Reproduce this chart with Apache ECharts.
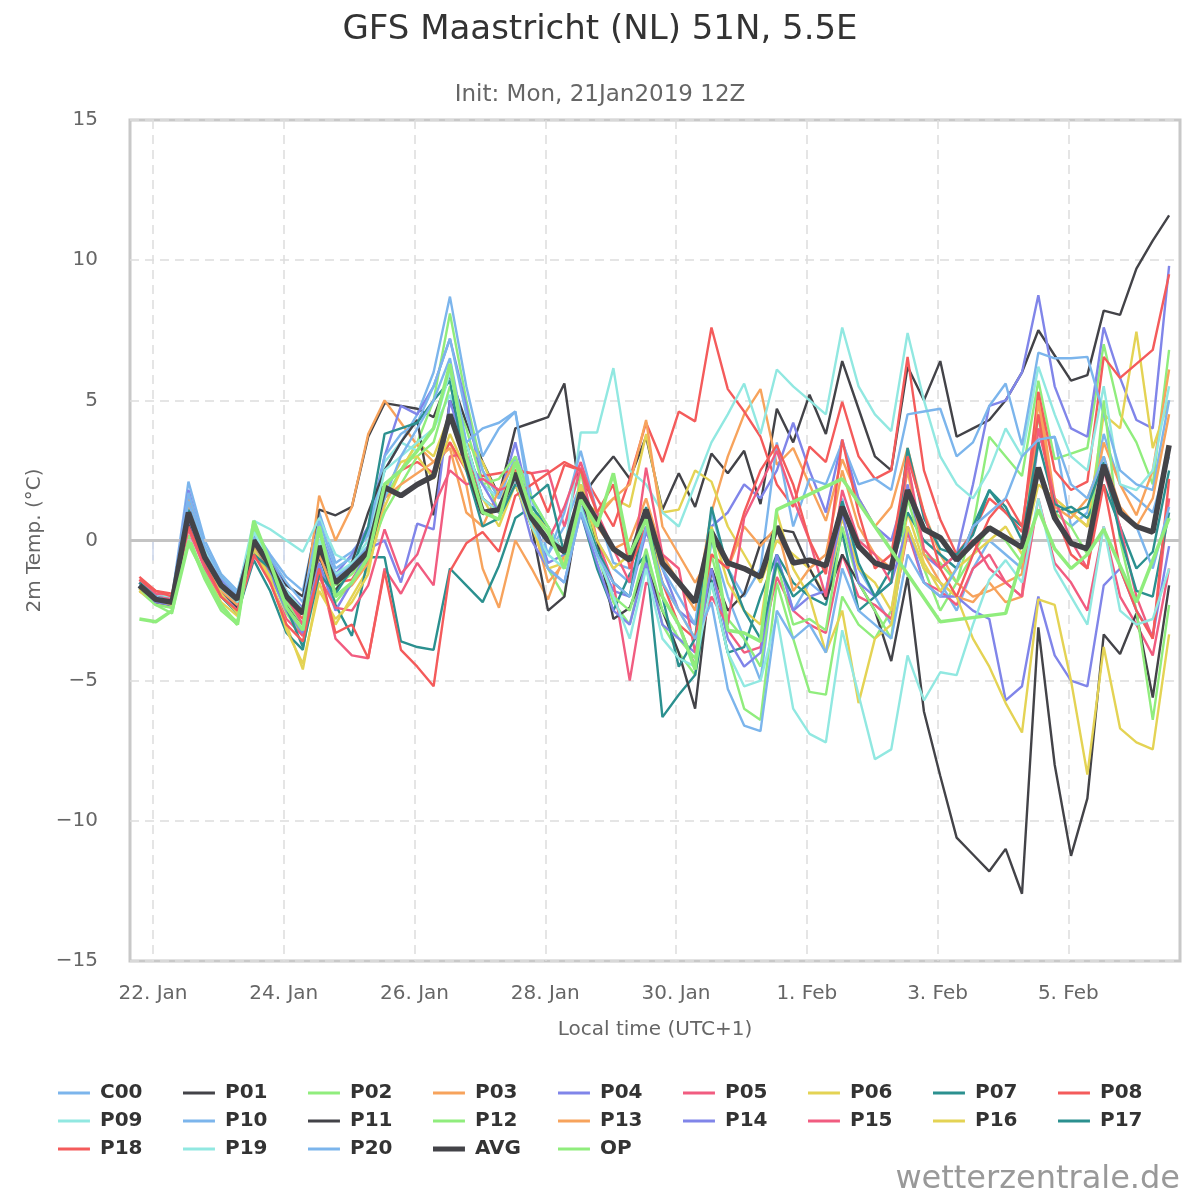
<!DOCTYPE html>
<html>
<head>
<meta charset="utf-8">
<script src="https://cdn.jsdelivr.net/npm/echarts@6/dist/echarts.min.js"></script>
<style>
html,body{margin:0;padding:0;background:#fff;}
#chart{width:1200px;height:1200px;}
</style>
</head>
<body>
<div id="chart"></div>
<script>
// Forecast steps: hours since 22 Jan 2019 00:00 local time (UTC+1), every 6 h
const X_HOURS = [-5,1,7,13,19,25,31,37,43,49,55,61,67,73,79,85,91,97,103,109,115,121,127,133,139,145,151,157,163,169,175,181,187,193,199,205,211,217,223,229,235,241,247,253,259,265,271,277,283,289,295,301,307,313,319,325,331,337,343,349,355,361,367,373];
const X_TICK_HOURS = [0,48,96,144,192,240,288,336];
const X_TICK_LABELS = ['22. Jan','24. Jan','26. Jan','28. Jan','30. Jan','1. Feb','3. Feb','5. Feb'];

const C00 = [-1.5,-1.9,-2.0,2.1,0.0,-1.2,-1.8,0.4, -0.5,-1.3,-1.8,1.0,-0.8,-0.4,0.3,2.5, 3.5,4.5,6.0,8.7,5.5,3.0,4.0,4.6, 1.5,-0.5,0.5,2.0,0.0,-1.0,-1.5,0.5, -2.0,-3.0,-4.5,0.0,-2.0,-3.5,-5.0,-0.5, -2.5,-1.5,-2.0,1.5,-1.0,-2.0,-3.0,0.5, -1.0,-1.5,-2.5,-1.0,0.0,-0.5,-1.0,3.5, 3.7,0.5,1.0,3.8,2.0,1.5,1.0,3.0];
const P01 = [-1.5,-2.0,-2.1,1.3,-0.3,-1.3,-2.0,0.2, -0.7,-1.6,-2.0,1.1,0.9,1.2,3.7,4.9, 4.8,4.7,4.4,5.9,4.2,2.8,1.6,4.0, 4.2,4.4,5.6,1.5,2.3,3.0,2.2,3.7, 1.1,2.4,1.2,3.1,2.4,3.2,1.3,4.7, 3.5,5.2,3.8,6.4,4.7,3.0,2.5,6.2, 5.0,6.4,3.7,4.0,4.3,5.0,6.0,7.5, 6.6,5.7,5.9,8.2,8.05,9.7,10.7,11.6];
const P02 = [-1.8,-2.3,-2.6,0.2,-1.3,-2.4,-2.9,0.4, -1.2,-2.6,-3.4,-0.9,-2.2,-1.5,-0.3,1.5, 2.5,3.5,5.0,8.1,5.0,2.5,1.0,2.5, 0.5,-1.0,-2.0,2.5,-0.5,-2.2,-3.0,-0.5, -3.0,-4.0,-4.8,-1.5,-4.0,-6.0,-6.4,-1.5, -3.5,-5.4,-5.5,-2.0,-3.0,-3.5,-2.5,0.5, -1.0,-2.5,-1.5,0.5,3.7,3.0,2.3,5.7, 2.9,3.1,3.3,7.0,4.5,3.5,2.0,6.8];
const P03 = [-1.8,-2.2,-2.4,1.5,-0.5,-1.6,-2.4,0.3, -0.8,-2.3,-2.6,1.6,0.0,1.2,3.8,5.0, 4.2,3.4,2.8,3.5,2.0,-1.0,-2.4,0.0, -1.0,-2.1,-0.5,2.0,0.5,-0.3,0.0,1.5, -0.5,-1.5,-2.5,1.0,3.0,4.5,5.4,2.7, 3.3,2.0,0.7,2.9,1.5,0.5,1.2,3.3, 1.0,-0.5,-1.5,-2.0,-1.8,-1.5,-1.2,5.3, 1.5,1.0,0.5,3.5,2.0,0.9,2.5,6.1];
const P04 = [-1.5,-2.0,-2.1,1.8,-0.3,-1.4,-2.0,0.2, -0.6,-1.8,-2.4,0.4,-1.2,-0.5,0.5,3.0, 4.8,4.5,5.5,7.2,4.8,2.0,1.5,3.5, 1.0,-0.8,-0.5,1.5,-0.5,-1.8,-2.0,0.3, -1.0,-2.5,-3.0,0.5,1.0,2.0,1.5,2.5, 4.2,2.5,1.0,3.6,1.5,0.5,0.0,2.0, -0.5,-1.0,-0.5,2.0,4.8,5.0,6.0,8.75, 5.5,4.0,3.7,7.6,5.8,4.3,4.0,9.8];
const P05 = [-1.4,-1.9,-2.0,0.7,-0.8,-1.8,-2.4,-0.4, -1.5,-2.8,-3.4,-1.0,-3.5,-4.1,-4.2,-1.0, -1.9,-0.8,-1.6,3.0,3.1,1.5,1.0,2.5, 2.4,2.5,0.5,2.6,0.0,-1.5,-5.0,-1.5, -2.0,-3.0,-4.5,-1.0,-3.2,-4.0,-3.8,-1.3, -2.5,-3.0,-3.3,-0.5,-2.0,-2.3,-2.8,0.3, -1.5,-1.8,-2.3,-1.0,-0.5,-1.5,-2.0,1.5, -0.8,-1.5,-2.5,0.5,-2.0,-3.0,-4.1,-1.0];
const P06 = [-1.8,-2.2,-2.4,0.5,-1.0,-2.2,-2.7,-0.4, -1.4,-3.0,-4.6,-1.5,-3.0,-2.0,-1.0,1.2, 2.5,3.5,3.0,4.5,3.5,2.8,1.5,2.5, 1.0,0.5,-0.5,1.5,1.0,1.5,1.2,3.8, 1.0,1.1,2.5,2.1,0.5,-0.5,-1.5,0.0, -0.5,-1.0,-2.0,0.8,-1.0,-1.5,-2.5,1.0, -0.8,-1.8,-1.0,-0.5,0.0,0.5,-0.5,2.0, 1.5,1.0,0.5,4.5,4.0,7.45,3.3,5.0];
const P07 = [-1.6,-2.1,-2.3,0.6,-0.9,-2.0,-2.6,-0.7, -1.8,-3.3,-3.9,-0.5,-2.3,-3.4,-0.6,-0.6, -3.6,-3.8,-3.9,-1.0,-1.6,-2.2,-0.9,0.8, 1.2,0.5,-0.5,1.0,-1.0,-2.5,-1.2,-0.5, -6.3,-5.5,-4.8,-1.4,-4.0,-3.8,-2.0,-0.5, -1.5,-2.0,-2.3,0.3,-2.5,-2.0,-1.0,1.0, 0.0,-0.5,-1.0,0.5,1.8,1.0,0.5,2.5, 1.0,1.2,0.8,2.0,0.5,-1.0,-0.4,2.5];
const P08 = [-1.4,-1.8,-1.9,0.8,-0.7,-1.8,-2.3,-0.3, -1.0,-2.2,-2.8,-0.3,-1.5,-1.4,-0.5,2.0, 2.5,2.8,2.4,3.5,2.5,2.3,2.4,2.5, 2.4,1.0,2.7,2.5,1.5,0.5,2.2,4.2, 2.8,4.6,4.25,7.6,5.4,4.6,3.7,2.0, 1.2,3.35,2.8,4.95,3.0,2.2,2.5,6.55, 2.5,0.75,-0.5,0.3,1.5,1.0,0.3,5.3, 2.5,1.8,2.1,6.55,5.8,6.3,6.8,9.5];
const P09 = [-1.5,-2.0,-2.0,1.3,-0.3,-1.3,-1.9,0.7, 0.4,0.0,-0.4,0.8,-0.5,-0.8,0.0,2.8, 3.5,3.2,4.0,5.2,3.0,2.0,1.5,3.0, 1.5,0.5,-0.5,3.85,3.85,6.15,2.5,2.0, 1.0,0.5,2.0,3.5,4.5,5.6,3.8,6.1, 5.5,5.0,4.5,7.6,5.5,4.5,3.9,7.4, 5.0,3.0,2.0,1.5,2.5,4.0,3.0,6.2, 4.5,3.0,2.5,5.5,2.0,1.8,2.5,5.5];
const P10 = [-1.5,-2.0,-2.1,1.7,-0.2,-1.3,-1.9,0.3, -0.6,-1.5,-2.2,0.7,-1.0,-0.6,0.2,3.0, 3.8,4.2,5.5,7.2,4.5,2.5,1.5,3.0, 0.5,-0.5,1.0,3.2,1.0,-0.8,-1.0,1.0, -1.0,-2.0,-3.0,1.0,-1.0,-2.0,-1.0,3.5, 0.5,2.2,2.0,3.5,2.0,2.2,1.8,4.5, 4.6,4.7,3.0,3.5,4.8,5.6,3.4,6.7, 6.5,6.5,6.55,4.5,2.5,2.0,1.8,5.0];
const P11 = [-1.7,-2.2,-2.3,0.6,-0.8,-1.8,-2.4,-0.2, -1.2,-2.3,-3.0,-0.6,-1.8,-0.8,1.0,2.5, 3.5,4.3,0.9,5.0,3.5,1.5,1.0,2.0, 0.5,-2.5,-2.0,1.5,0.0,-2.8,-2.4,-0.9, -2.5,-4.0,-6.0,-1.0,-2.5,-1.9,-0.1,0.4, 0.3,-1.0,-2.1,-0.5,-1.5,-2.5,-4.3,-1.3, -6.1,-8.4,-10.6,-11.2,-11.8,-11.0,-12.6,-3.1, -8.0,-11.25,-9.2,-3.35,-4.05,-2.6,-5.6,-1.6];
const P12 = [-1.7,-2.3,-2.4,0.0,-1.4,-2.5,-3.0,0.5, -1.0,-2.2,-3.0,0.3,-1.6,-1.2,-0.5,1.0, 2.0,3.0,3.5,5.5,4.0,2.0,2.2,3.0, 1.5,0.5,-1.0,2.0,-0.5,-2.0,-2.5,-0.3, -2.5,-3.5,-4.2,-0.5,-2.8,-3.5,-4.5,-0.8, -3.0,-2.8,-3.2,0.5,-1.5,-2.5,-3.5,1.5, -0.5,-0.8,-1.5,-0.5,0.5,0.0,-0.8,4.5, 1.0,0.5,-0.5,5.0,0.0,-2.5,-6.4,-2.3];
const P13 = [-1.7,-2.1,-2.3,1.2,-0.6,-1.8,-2.3,-0.2, -1.0,-2.5,-3.2,-0.5,-2.0,-1.6,-0.8,1.5, 2.0,2.4,2.8,3.3,1.0,0.5,1.8,2.8, 0.8,-1.5,-0.8,1.5,0.8,1.5,2.0,4.3, 0.5,-0.5,-1.5,-0.5,-1.0,0.5,-0.2,0.5, -1.8,-1.0,-0.5,2.5,0.5,-0.5,-1.0,2.5, -0.5,-1.5,-2.0,-2.2,-1.5,-2.2,-2.0,5.0, 1.2,0.8,1.5,3.0,1.2,0.5,1.5,4.5];
const P14 = [-1.6,-2.2,-2.3,0.8,-0.8,-1.9,-2.5,-0.3, -1.2,-2.5,-3.3,-0.8,-2.5,-1.5,-0.3,0.0, -1.5,0.6,0.4,5.0,3.0,2.0,1.0,2.2, 0.0,-1.0,-1.5,1.0,-0.8,-2.5,-3.0,-0.8, -3.0,-3.5,-4.0,-1.0,-3.5,-4.5,-4.0,-0.5, -2.5,-2.0,-1.8,1.0,-1.5,-2.0,-1.5,0.5, -1.5,-2.0,-2.0,-2.5,-2.8,-5.7,-5.2,-2.0, -4.1,-5.0,-5.2,-1.6,-1.0,-2.5,-3.4,-0.2];
const P15 = [-1.5,-2.0,-2.1,0.4,-1.0,-2.0,-2.5,-0.6, -1.0,-2.0,-3.0,-1.3,-2.4,-2.5,-1.6,0.4, -1.2,-0.5,1.2,2.5,2.0,2.2,1.8,2.0, 0.8,0.0,1.2,2.8,1.0,-0.3,-1.5,2.6, -0.5,-1.0,-4.0,-2.0,-3.0,0.8,2.0,3.2, 1.5,0.0,-2.0,1.8,0.0,-0.5,-1.5,2.8, -0.3,-1.0,-0.5,0.0,-1.0,-1.5,-2.0,4.0, 1.5,0.0,-1.0,2.5,0.5,-2.0,-3.5,1.5];
const P16 = [-1.7,-2.1,-2.3,0.9,-0.7,-1.9,-2.6,-0.3, -1.3,-3.2,-4.4,-1.8,-2.8,-2.2,-1.2,1.8, 2.8,3.0,2.2,3.8,2.5,1.5,0.5,2.0, 0.5,-1.0,-0.8,2.0,0.0,-1.0,-0.5,1.0, -1.5,-2.5,-3.5,0.5,-1.5,-2.5,-3.0,1.0, -1.0,-2.0,-4.0,-2.5,-5.8,-3.5,-3.0,0.5, -1.0,-1.5,-2.0,-3.5,-4.5,-5.8,-6.85,-2.1, -2.3,-5.0,-8.35,-3.8,-6.7,-7.2,-7.45,-3.35];
const P17 = [-1.5,-2.0,-2.2,1.1,-0.5,-1.6,-2.2,-0.5, -1.0,-2.4,-3.8,-1.2,-1.9,-1.0,0.5,3.8, 4.0,4.2,5.0,5.7,2.5,0.5,0.8,2.0, 1.5,2.0,-0.5,1.2,-0.3,-1.5,-2.0,1.2, -2.0,-4.5,-3.5,1.2,-1.0,-2.5,-3.5,-0.8, -2.0,-1.5,-1.0,1.4,-0.8,-2.0,-1.5,3.3, 0.8,-0.3,-0.5,0.2,1.8,1.2,0.0,3.5, 1.3,1.0,1.2,2.8,0.2,-1.8,-2.0,1.0];
const P18 = [-1.3,-1.8,-2.0,0.5,-0.8,-2.0,-2.5,-0.5, -1.5,-3.0,-3.6,-1.0,-3.3,-3.0,-4.2,-1.1, -3.9,-4.5,-5.2,-1.1,-0.1,0.3,-0.4,1.6, 2.0,2.4,2.8,2.5,1.0,2.0,-1.0,0.5, -1.5,-3.0,-3.5,-0.5,-1.0,1.0,2.5,3.4, 2.0,0.0,-1.2,3.6,1.0,-1.0,-0.5,3.0, 1.0,-1.0,-2.0,-0.5,0.8,1.5,0.5,4.5, 1.0,-0.5,-1.0,2.0,-1.0,-2.5,-3.5,2.2];
const P19 = [-1.6,-2.1,-2.2,1.0,-0.7,-1.7,-2.2,0.3, -0.8,-1.8,-2.5,0.0,-1.2,-0.8,-0.2,2.5, 3.0,3.5,4.0,6.0,3.5,1.5,1.0,2.2, 0.5,-0.5,-1.0,1.2,-0.5,-2.0,-3.5,-1.0, -3.5,-4.2,-4.5,-1.5,-4.0,-5.2,-5.0,-2.7, -6.0,-6.9,-7.2,-3.2,-5.5,-7.8,-7.45,-4.1, -5.7,-4.7,-4.8,-3.0,-1.4,-0.7,-1.5,1.5, -1.0,-2.0,-3.0,0.5,-2.5,-3.0,-2.8,-1.0];
const P20 = [-1.6,-2.0,-2.2,1.4,-0.5,-1.5,-2.0,0.1, -0.9,-1.9,-2.6,0.3,-1.3,-0.9,-0.2,1.5, 3.0,4.0,5.0,6.5,3.5,4.0,4.2,4.6, 1.0,-1.0,-1.5,1.0,-0.5,-1.5,-2.0,0.5, -1.5,-2.5,-3.5,-2.2,-5.3,-6.6,-6.8,-2.5, -3.5,-3.0,-4.0,-1.0,-2.5,-3.0,-3.5,-0.5, -1.5,-2.0,-1.0,0.5,1.0,1.5,3.0,3.6, 3.7,2.0,1.5,3.0,1.0,0.5,-1.0,1.2];
const AVG = [-1.6,-2.1,-2.2,1.0,-0.6,-1.6,-2.1,0.0, -0.9,-2.0,-2.6,-0.2,-1.5,-1.0,-0.4,1.9, 1.6,2.0,2.3,4.5,2.8,1.0,1.1,2.4, 0.8,0.0,-0.4,1.7,0.7,-0.3,-0.7,1.1, -0.8,-1.5,-2.2,0.3,-0.8,-1.0,-1.3,0.5, -0.8,-0.7,-0.9,1.2,-0.2,-0.8,-1.0,1.8, 0.4,0.1,-0.7,-0.1,0.45,0.1,-0.25,2.6, 0.8,-0.1,-0.3,2.7,1.0,0.5,0.3,3.4];
const OP = [-2.8,-2.9,-2.5,-0.1,-1.2,-2.3,-3.0,0.7, -0.8,-2.4,-3.2,0.5,-2.0,-1.5,-0.6,2.0, 2.5,3.2,4.0,6.3,3.0,1.0,0.75,2.8, 1.0,0.3,-1.0,1.45,0.5,2.4,-0.5,0.75, -2.0,-3.0,-4.6,0.4,-3.2,-3.3,-3.6,1.1, null,null,null,2.2,null,null,null,null, null,-2.9,null,null,null,-2.6,-0.6,1.1, -0.3,-1.0,-0.5,0.4,null,-2.2,null,0.8];

const SERIES_NAMES = ['C00','P01','P02','P03','P04','P05','P06','P07','P08','P09','P10','P11','P12','P13','P14','P15','P16','P17','P18','P19','P20','AVG','OP'];
const SERIES_VALUES = [C00,P01,P02,P03,P04,P05,P06,P07,P08,P09,P10,P11,P12,P13,P14,P15,P16,P17,P18,P19,P20,AVG,OP];
const LEGEND_COLUMNS = [['C00','P09','P18'],['P01','P10','P19'],['P02','P11','P20'],['P03','P12','AVG'],['P04','P13','OP'],['P05','P14'],['P06','P15'],['P07','P16'],['P08','P17']];

// styles
const PALETTE = ['#7cb5ec','#434348','#90ed7d','#f7a35c','#8085e9','#f15c80','#e4d354','#2b908f','#f45b5b','#91e8e1'];
const FONT = 'DejaVu Sans';
// legend icons: 32px line plus transparent 5px spacer, box 37x7
const ICON_THIN = 'path://M0,2h32v3h-32z M0,0h0.01v0.01h-0.01z M37,7h0.01v0.01h-0.01z';
const ICON_AVG = 'path://M0,1h32v5h-32z M0,0h0.01v0.01h-0.01z M37,7h0.01v0.01h-0.01z';
function colorFor(i, name){
  if (name === 'AVG') return '#434348';
  if (name === 'OP') return '#90ed7d';
  return PALETTE[i % 10];
}
function widthFor(name){ return name === 'AVG' ? 5.5 : (name === 'OP' ? 3.5 : 2.4); }

const series = [{
  name: 'zero', type: 'line', data: [], silent: true, z: 1,
  markLine: { silent: true, symbol: 'none', label: {show:false}, animation:false,
    lineStyle: { color: '#c4c4c4', width: 3, type: 'solid' }, data: [{ yAxis: 0 }] }
}];
SERIES_NAMES.forEach((name, i) => {
  series.push({
    name: name,
    type: 'line',
    data: X_HOURS.map((h, j) => [h, SERIES_VALUES[i][j]]),
    showSymbol: false,
    symbol: 'none',
    connectNulls: true,
    z: 2 + i,
    color: colorFor(i, name),
    lineStyle: { width: widthFor(name), color: colorFor(i, name) },
    emphasis: { disabled: true }
  });
});

const legends = LEGEND_COLUMNS.map((col, c) => ({
  orient: 'vertical',
  left: 58 + 125 * c,
  top: 1083,
  padding: 0,
  itemGap: 8,
  itemWidth: 37,
  itemHeight: 7,
  selectedMode: false,
  itemStyle: { borderWidth: 0 },
  data: col.map(n => ({ name: n, icon: n === 'AVG' ? ICON_AVG : ICON_THIN, itemStyle: { borderWidth: 0 } })),
  textStyle: { fontFamily: FONT, fontWeight: 'bold', fontSize: 20, color: '#333', lineHeight: 20 }
}));

const chart = echarts.init(document.getElementById('chart'), null, { renderer: 'canvas' });
chart.setOption({
  animation: false,
  backgroundColor: '#ffffff',
  title: [
    { text: 'GFS Maastricht (NL) 51N, 5.5E', left: 'center', top: 8,
      textStyle: { fontFamily: FONT, fontSize: 34, fontWeight: 'normal', color: '#333333' } },
    { text: 'Init: Mon, 21Jan2019 12Z', left: 'center', top: 79,
      textStyle: { fontFamily: FONT, fontSize: 23, fontWeight: 'normal', color: '#666666' } }
  ],
  legend: legends,
  grid: { left: 130, right: 20, top: 120, bottom: 239, show: true, borderColor: '#c8c8c8', borderWidth: 3, backgroundColor: 'transparent' },
  xAxis: {
    type: 'value', min: -8.45, max: 377,
    name: 'Local time (UTC+1)', nameLocation: 'middle', nameGap: 59,
    nameTextStyle: { fontFamily: FONT, fontSize: 20, color: '#666' },
    axisLine: { show: false },
    axisTick: { show: true, customValues: X_TICK_HOURS, length: 20, lineStyle: { color: '#ccd6eb', width: 1.5 } },
    axisLabel: { customValues: X_TICK_HOURS, margin: 23, fontFamily: FONT, fontSize: 20, color: '#666',
      formatter: v => X_TICK_LABELS[X_TICK_HOURS.indexOf(Math.round(v))] || '' },
    splitLine: { show: true, lineStyle: { color: '#dddddd', width: 1.5, type: [9, 6] } }
  },
  yAxis: {
    type: 'value', min: -15, max: 15, interval: 5,
    name: '2m Temp. (°C)', nameLocation: 'middle', nameGap: 77, nameRotate: 90,
    nameTextStyle: { fontFamily: FONT, fontSize: 20, color: '#666' },
    axisLine: { show: false }, axisTick: { show: false },
    axisLabel: { margin: 32, fontFamily: FONT, fontSize: 20, color: '#666',
      formatter: v => (v < 0 ? '\u2212' + Math.abs(v) : String(v)) },
    splitLine: { show: true, lineStyle: { color: '#dddddd', width: 1.5, type: [9, 6] } }
  },
  graphic: [
    { type: 'text', right: 20, bottom: 4,
      style: { text: 'wetterzentrale.de', fontFamily: FONT, fontSize: 32, fill: '#999999' } }
  ],
  series: series
});
</script>
</body>
</html>
